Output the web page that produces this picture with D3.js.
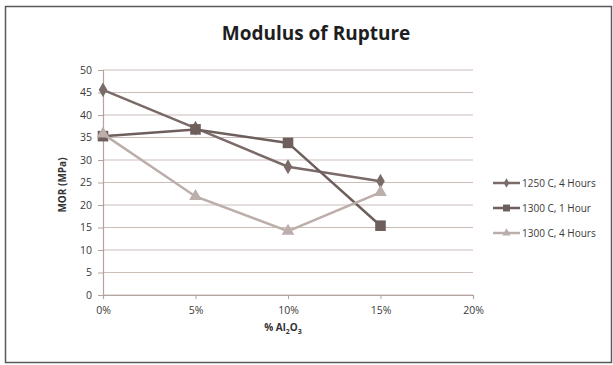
<!DOCTYPE html>
<html>
<head>
<meta charset="utf-8">
<script src="https://cdn.jsdelivr.net/npm/d3@7"></script>
<style>
  body { margin: 0; background: #fff; }
  text { font-family: "Open Sans", "Noto Sans", sans-serif; }
</style>
</head>
<body>
<svg id="chart" width="613" height="365"></svg>
<script>
// chart values
var xCats = [0, 5, 10, 15];
var xTicks = [0, 5, 10, 15, 20];
var yTicks = [0, 5, 10, 15, 20, 25, 30, 35, 40, 45, 50];
var seriesNames = ["1250 C, 4 Hours", "1300 C, 1 Hour", "1300 C, 4 Hours"];
var mor1250_4h = [45.6, 37.1, 28.5, 25.3];
var mor1300_1h = [35.3, 36.8, 33.8, 15.4];
var mor1300_4h = [35.8, 21.9, 14.2, 22.8];

var series = [
  { name: seriesNames[0], values: mor1250_4h, color: "#7b6b68", shape: "diamond" },
  { name: seriesNames[1], values: mor1300_1h, color: "#6e5f5c", shape: "square" },
  { name: seriesNames[2], values: mor1300_4h, color: "#bcaeab", shape: "triangle" }
];

var svg = d3.select("#chart");

// frame
svg.append("rect")
  .attr("x", 5.5).attr("y", 6.5)
  .attr("width", 606).attr("height", 356)
  .attr("fill", "#fff")
  .attr("stroke", "#5a5a5a")
  .attr("stroke-width", 1.5);

var x = d3.scaleLinear().domain([0, 20]).range([103, 473]);
var y = d3.scaleLinear().domain([0, 50]).range([295, 70]);

// gridlines
svg.append("g")
  .selectAll("line")
  .data(yTicks)
  .enter().append("line")
  .attr("x1", x(0)).attr("x2", x(20))
  .attr("y1", function(d) { return y(d); })
  .attr("y2", function(d) { return y(d); })
  .attr("stroke", "#cdbdb9")
  .attr("stroke-width", 1.2);

// y axis
var yAxis = svg.append("g")
  .attr("transform", "translate(" + x(0) + ",0)")
  .call(d3.axisLeft(y).tickValues(yTicks).tickSize(5).tickPadding(6));
yAxis.select(".domain").attr("stroke", "#b4a4a0").attr("stroke-width", 1.2);
yAxis.selectAll(".tick line").attr("stroke", "#b4a4a0");
yAxis.selectAll("text").attr("font-size", 10.5).attr("fill", "#3a3a3a")
  .style("font-family", "'Open Sans', sans-serif");

// x axis
var xAxis = svg.append("g")
  .attr("transform", "translate(0," + y(0) + ")")
  .call(d3.axisBottom(x).tickValues(xTicks).tickSize(4).tickPadding(8)
    .tickFormat(function(d) { return d + "%"; }));
xAxis.select(".domain").attr("stroke", "#b4a4a0").attr("stroke-width", 1.2);
xAxis.selectAll(".tick line").attr("stroke", "#b4a4a0");
xAxis.selectAll("text").attr("font-size", 10.5).attr("fill", "#3a3a3a")
  .style("font-family", "'Open Sans', sans-serif");

// title
svg.append("text")
  .attr("x", 316).attr("y", 40)
  .attr("text-anchor", "middle")
  .attr("font-size", 19).attr("font-weight", "bold")
  .attr("fill", "#1e1e1e")
  .text("Modulus of Rupture");

// axis titles
svg.append("text")
  .attr("transform", "translate(66,185) rotate(-90)")
  .attr("text-anchor", "middle")
  .attr("font-size", 10).attr("font-weight", "bold")
  .attr("fill", "#333")
  .text("MOR (MPa)");

var xl = svg.append("text")
  .attr("x", 283).attr("y", 331)
  .attr("text-anchor", "middle")
  .attr("font-size", 10).attr("font-weight", "bold")
  .attr("fill", "#333");
xl.append("tspan").text("% Al");
xl.append("tspan").attr("font-size", 7).attr("dy", 3).text("2");
xl.append("tspan").attr("dy", -3).text("O");
xl.append("tspan").attr("font-size", 7).attr("dy", 3).text("3");

var line = d3.line()
  .x(function(d, i) { return x(xCats[i]); })
  .y(function(d) { return y(d); });

function marker(g, shape, size) {
  if (shape === "diamond") {
    g.append("path").attr("d", d3.symbol(d3.symbolDiamond, size * 0.9)());
  } else if (shape === "square") {
    g.append("path").attr("d", d3.symbol(d3.symbolSquare, size * 1.6)());
  } else {
    g.append("path").attr("d", d3.symbol(d3.symbolTriangle, size)());
  }
}

series.forEach(function(s) {
  svg.append("path")
    .datum(s.values)
    .attr("d", line)
    .attr("fill", "none")
    .attr("stroke", s.color)
    .attr("stroke-width", 2.5);

  s.values.forEach(function(v, i) {
    var g = svg.append("g")
      .attr("transform", "translate(" + x(xCats[i]) + "," + y(v) + ")")
      .attr("fill", s.color);
    marker(g, s.shape, 70);
  });
});

// legend
var legend = svg.append("g").attr("transform", "translate(493,183)");
series.forEach(function(s, i) {
  var row = legend.append("g").attr("transform", "translate(0," + (i * 25) + ")");
  row.append("line")
    .attr("x1", 0).attr("x2", 27)
    .attr("stroke", s.color).attr("stroke-width", 2.5);
  var g = row.append("g").attr("transform", "translate(13.5,0)").attr("fill", s.color);
  marker(g, s.shape, 30);
  row.append("text")
    .attr("x", 29).attr("y", 3.5)
    .attr("font-size", 10).attr("fill", "#3a3a3a")
    .text(s.name);
});
</script>
</body>
</html>
